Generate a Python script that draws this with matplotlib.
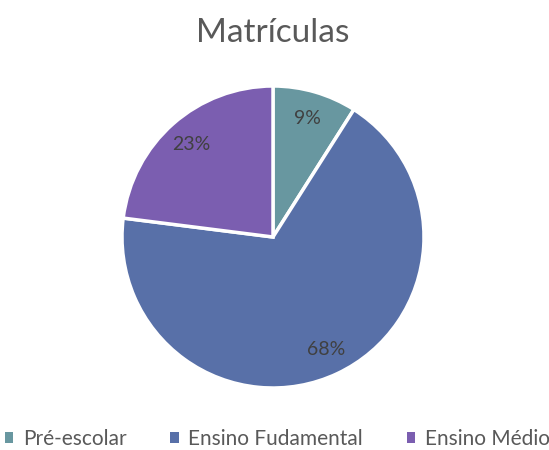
import matplotlib
matplotlib.use("Agg")
import matplotlib.pyplot as plt
from matplotlib.patches import Patch

categories = ["Pré-escolar", "Ensino Fudamental", "Ensino Médio"]
values = [9, 68, 23]
colors = ["#6897A0", "#5870A8", "#7B5EB0"]
title = "Matrículas"

plt.rcParams['font.family'] = ['Lato', 'DejaVu Sans']
txt = "#595959"

fig = plt.figure(figsize=(5.49, 4.5), dpi=100)
cx, cy, r = 273, 237, 151
ax = fig.add_axes([(cx - r) / 549, 1 - (cy + r) / 450, 2 * r / 549, 2 * r / 450])
wedges, texts, autotexts = ax.pie(
    values, colors=colors, startangle=90, counterclock=False,
    autopct=lambda p: f"{p:.0f}%", pctdistance=0.82,
    wedgeprops=dict(edgecolor="white", linewidth=2.5, clip_on=False),
    textprops=dict(color="#404040", fontsize=14), radius=1.0)
ax.set_xlim(-1.0, 1.0)
ax.set_ylim(-1.0, 1.0)
ax.set_aspect("equal")
ax.axis("off")

fig.text(273 / 549, 1 - 33 / 450, title, ha="center", va="center", fontsize=24, color=txt)

handles = [Patch(facecolor=c, edgecolor="none") for c in colors]
fig.legend(handles, categories, loc="center", bbox_to_anchor=(0.505, 1 - 439 / 450),
           ncol=3, frameon=False, fontsize=15, handlelength=0.42, handleheight=0.42,
           handletextpad=0.45, columnspacing=2.1, labelcolor=txt)

fig.savefig("out.png", dpi=100, facecolor="white")
